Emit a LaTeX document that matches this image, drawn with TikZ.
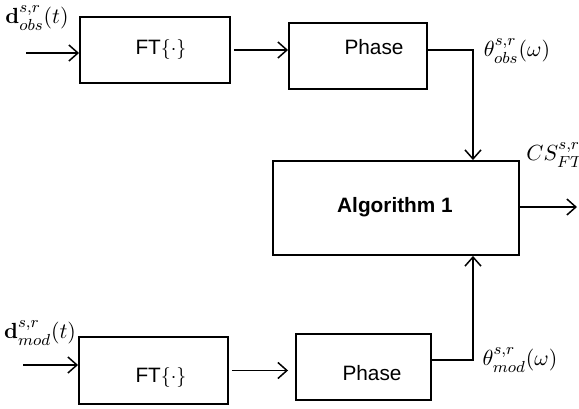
\documentclass[tikz,border=0pt]{standalone}
\usepackage[no-math]{fontspec}
\setmainfont{Liberation Sans}
\usetikzlibrary{arrows.meta}
\begin{document}
\begin{tikzpicture}[x=0.5pt,y=-0.5pt,
  blk/.style={draw,line width=0.95pt,inner sep=0pt},
  conn/.style={line width=0.75pt,-{Straight Barb[length=4.5pt,width=8pt,line width=0.75pt]}},
  lbl/.style={inner sep=0pt,font=\fontsize{10.8}{12}\selectfont},
  txt/.style={inner sep=0pt,font=\fontsize{10.4}{12}\selectfont}]
\useasboundingbox (0,0) rectangle (579,408);
% boxes
\node[blk,minimum width=75pt,minimum height=33pt] (ft1) at (155,50) {};
\node[blk,minimum width=69pt,minimum height=33pt] (ph1) at (358,56) {};
\node[blk,minimum width=123pt,minimum height=47pt] (alg) at (396,208) {};
\node[blk,minimum width=67.5pt,minimum height=33pt] (ph2) at (363.5,367) {};
\node[blk,minimum width=74.5pt,minimum height=33.5pt] (ft2) at (153.5,370.5) {};
% box texts
\node[txt] (t1) at (161,49) {FT$\{\cdot\}$};
\node[txt] (t2) at (374,47) {Phase};
\node[txt,font=\fontsize{10.4}{12}\selectfont\bfseries] (t3) at (395,207) {Algorithm 1};
\node[txt] (t4) at (372,373) {Phase};
\node[txt] (t5) at (161,377) {FT$\{\cdot\}$};
% labels
\node[lbl] (l1) at (37,18) {$\mathbf{d}^{s,r}_{obs}(t)$};
\node[lbl] (l2) at (517,51) {$\theta^{s,r}_{obs}(\omega)$};
\node[lbl] (l3) at (555,155) {$CS^{s,r}_{FT}$};
\node[lbl] (l4) at (520,360) {$\theta^{s,r}_{mod}(\omega)$};
\node[lbl] (l5) at (40,333) {$\mathbf{d}^{s,r}_{mod}(t)$};
% free ends
\coordinate (in1) at (26,53);
\coordinate (in2) at (23,365);
\coordinate (out) at (577,207);
\coordinate (j1) at (473,50);
\coordinate (j2) at (473,360);
% connectors
\draw[conn] (in1) -- (ft1.west |- in1);
\draw[conn] (in2) -- (ft2.west |- in2);
\draw[conn] ([xshift=1.5pt]ft1.east) -- (ph1.west |- ft1.east);
\draw[conn,shorten >=3.5pt] ([xshift=1.5pt]ft2.east) -- (ph2.west |- ft2.east);
\draw[conn] (ph1.east |- j1) -- (j1) -- (j1 |- alg.north);
\draw[conn] (ph2.east |- j2) -- (j2) -- (j2 |- alg.south);
\draw[conn] (alg.east |- out) -- (out);
\end{tikzpicture}
\end{document}
